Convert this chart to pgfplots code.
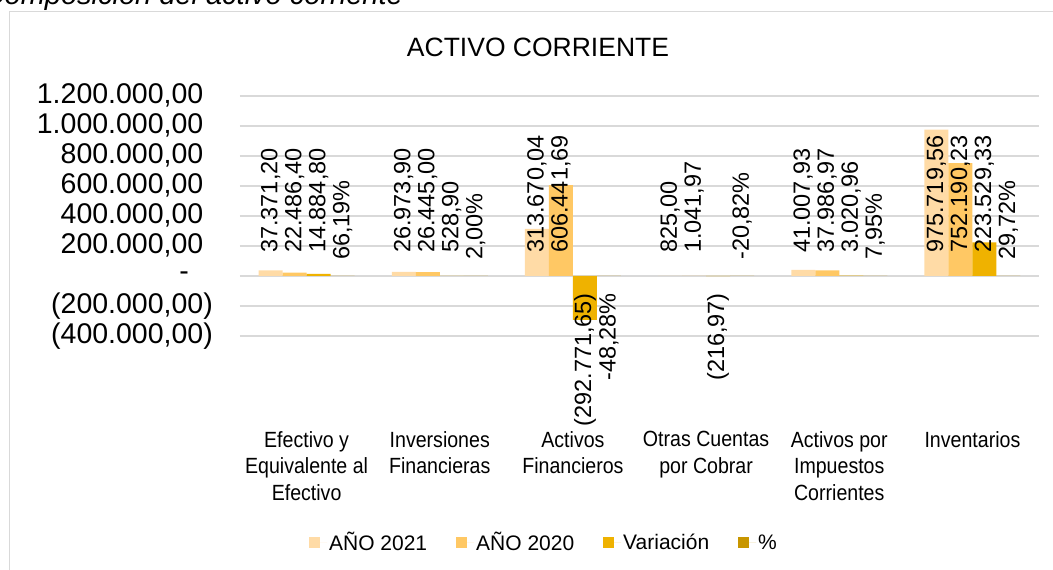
\documentclass[border=0pt]{standalone}
\usepackage{fontspec}
\setmainfont{Liberation Sans}
\newfontfamily\narrowfont[FakeStretch=0.89]{Liberation Sans}
\usepackage{pgfplots}
\pgfplotsset{compat=1.18}
\definecolor{cA}{HTML}{FFDBA6}
\definecolor{cB}{HTML}{FFC864}
\definecolor{cC}{HTML}{EFB200}
\definecolor{cD}{HTML}{C89600}
\definecolor{gridc}{HTML}{D9D9D9}
\pgfplotsset{
  mybar/.style={ybar, bar width=24pt, draw=none, fill=#1,
    legend image code/.code={\fill[fill=#1, draw=none] (0pt,-5.5pt) rectangle (11pt,5.5pt); \path (0pt,0pt) -- (18pt,0pt);}},
  lblpos/.style={forget plot, draw=none, mark=none, nodes near coords, point meta=explicit symbolic,
    every node near coord/.style={rotate=90, anchor=west, inner xsep=#1, inner ysep=0pt,
      font=\fontsize{23.5}{28}\selectfont, text=black}},
  lblneg/.style={forget plot, draw=none, mark=none, nodes near coords, point meta=explicit symbolic,
    every node near coord/.style={rotate=90, anchor=east, inner xsep=#1, inner ysep=0pt,
      font=\fontsize{23.5}{28}\selectfont, text=black}},
}
\begin{document}
\begin{tikzpicture}
\path[use as bounding box] (0,0) rectangle (1053pt,570pt);
\node[anchor=base east, font=\itshape\fontsize{29}{34}\selectfont, inner sep=0pt] at (403pt,565pt) {Composición del activo corriente};
\draw[gridc, line width=1pt] (9.5pt,0pt) -- (9.5pt,558pt) -- (1053pt,558pt);
\node[anchor=base, font=\fontsize{26.5}{31}\selectfont, inner sep=0pt] at (538pt,513.3pt) {ACTIVO CORRIENTE};
\begin{axis}[
  at={(240pt,234pt)}, anchor=south west,
  scale only axis, width=799pt, height=240pt,
  xmin=-0.5, xmax=5.5, ymin=-400000, ymax=1200000,
  clip=false,
  scaled y ticks=false,
  axis line style={draw=none},
  major tick length=0pt,
  tick style={draw=none},
  ymajorgrids, grid style={draw=gridc, line width=1.2pt},
  ytick={-400000,-200000,0,200000,400000,600000,800000,1000000,1200000},
  yticklabels={{(400.000,00)},{(200.000,00)},{-\hspace*{24pt}},{200.000,00\phantom{)}},{400.000,00\phantom{)}},{600.000,00\phantom{)}},{800.000,00\phantom{)}},{1.000.000,00\phantom{)}},{1.200.000,00\phantom{)}}},
  yticklabel style={anchor=east, inner sep=0pt, xshift=-27pt, font=\fontsize{28.5}{34}\selectfont},
  xtick={0,1,2,3,4,5},
  xticklabels={{Efectivo y\\Equivalente al\\Efectivo},{Inversiones\\Financieras},{Activos\\Financieros},{Otras Cuentas\\por Cobrar},{Activos por\\Impuestos\\Corrientes},{Inventarios}},
  xticklabel style={anchor=north, align=center, inner sep=0pt, yshift=-95pt, font=\narrowfont\fontsize{22}{26.5}\selectfont},
  legend columns=4,
  legend style={at={(0.3805,-0.8604)}, anchor=center, draw=none, fill=none,
    font=\fontsize{21}{25}\selectfont,
    /tikz/every even column/.append style={column sep=27pt}},
]
\addplot[mybar=cA, bar shift=-36pt] coordinates {(0,37371.20) (1,26973.90) (2,313670.04) (3,825.00) (4,41007.93) (5,975719.56)};
\addlegendentry{AÑO 2021}
\addplot[mybar=cB, bar shift=-12pt] coordinates {(0,22486.40) (1,26445.00) (2,606441.69) (3,1041.97) (4,37986.97) (5,752190.23)};
\addlegendentry{AÑO 2020}
\addplot[mybar=cC, bar shift=12pt] coordinates {(0,14884.80) (1,528.90) (2,-292771.65) (3,-216.97) (4,3020.96) (5,223529.33)};
\addlegendentry{Variación}
\addplot[mybar=cD, bar shift=36pt] coordinates {(0,0.6619) (1,0.0200) (2,-0.4828) (3,-0.2082) (4,0.0795) (5,0.2972)};
\addlegendentry{\%}
% data labels
\addplot[lblpos=23pt] coordinates {(-0.27034,0) [37.371,20] (0.72966,0) [26.973,90] (1.72966,0) [313.670,04] (2.72966,0) [825,00] (3.72966,0) [41.007,93] (4.72966,0) [975.719,56]};
\addplot[lblpos=23pt] coordinates {(-0.09011,0) [22.486,40] (0.90989,0) [26.445,00] (1.90989,0) [606.441,69] (2.90989,0) [1.041,97] (3.90989,0) [37.986,97] (4.90989,0) [752.190,23]};
\addplot[lblpos=23pt] coordinates {(0.09011,0) [14.884,80] (1.09011,0) [528,90] (4.09011,0) [3.020,96] (5.09011,0) [223.529,33]};
\addplot[lblneg=17pt] coordinates {(2.09011,0) [(292.771,65)] (3.09011,0) [(216,97)]};
\addplot[lblpos=16pt] coordinates {(0.27034,0) [66,19\%] (1.27034,0) [2,00\%] (3.27034,0) [-20,82\%] (4.27034,0) [7,95\%] (5.27034,0) [29,72\%]};
\addplot[lblneg=17pt] coordinates {(2.27034,0) [-48,28\%]};
\end{axis}
\end{tikzpicture}
\end{document}
